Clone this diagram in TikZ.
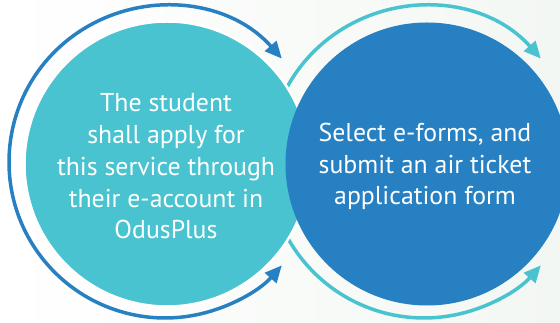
\documentclass[tikz,border=0pt]{standalone}
\usepackage{fontspec}
\setmainfont{PT Sans}
\usetikzlibrary{arrows.meta}
\definecolor{cteal}{RGB}{73,195,208}
\definecolor{cblue}{RGB}{38,128,194}
\definecolor{bgr}{RGB}{243,247,243}
\tikzset{
  ringarrow/.style={line width=3.5pt, {Triangle[length=17pt,width=15pt]}-{Triangle[length=17pt,width=15pt]}},
  disc/.style={circle, inner sep=0pt, minimum size=283pt},
  disctext/.style={text=white, align=center, font=\fontsize{25.8}{31.7}\selectfont}
}
\begin{document}
\begin{tikzpicture}[x=1pt,y=1pt]
\useasboundingbox (0,0) rectangle (560,323);
\shade[left color=white, right color=bgr] (0,0) rectangle (560,323);
% right ring arrow (behind)
\coordinate (rc) at (424,161);
\draw[cteal, ringarrow] (rc) ++(41.5:156) coordinate (rs) arc[start angle=41.5, end angle=318.5, radius=156] coordinate (re);
% discs
\node[disc, fill=cteal, draw=white, line width=2.5pt, minimum size=285pt] (A) at (167,159) {};
\node[disc, fill=cblue] (B) at (427,159) {};
% left ring arrow
\coordinate (lc) at (165,161);
\draw[cblue, ringarrow] (lc) ++(41.5:156) coordinate (ls) arc[start angle=41.5, end angle=318.5, radius=156] coordinate (le);
% texts
\node[disctext] (ta) at (166,156.5) {The student\\shall apply for\\this service through\\their e-account in\\OdusPlus};
\node[disctext] (tb) at (425,156.5) {Select e-forms, and\\submit an air ticket\\application form};
\end{tikzpicture}
\end{document}
